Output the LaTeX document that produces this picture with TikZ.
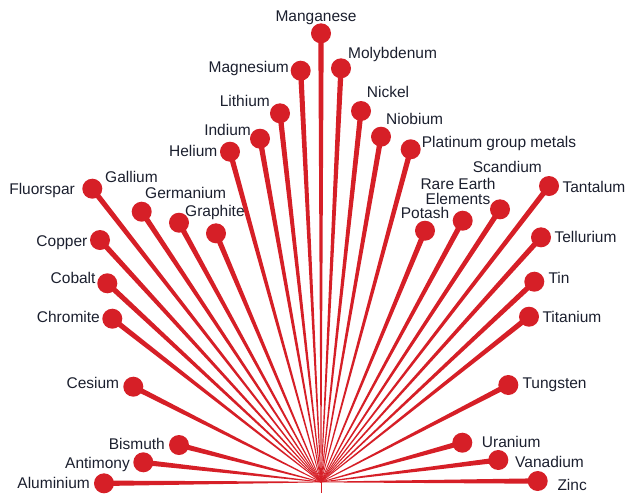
\documentclass[tikz,border=0pt]{standalone}
\usepackage{fontspec}
\setmainfont{Liberation Sans}
\usetikzlibrary{calc}
\definecolor{mred}{RGB}{214,31,39}
\definecolor{txt}{RGB}{27,31,46}
\tikzset{
  dot/.style={circle, fill=mred, draw=none, minimum size=20pt, inner sep=0pt},
  lbl/.style={font=\fontsize{15.5}{15.3}\selectfont, text=txt, inner sep=0pt},
  ray/.style={fill=mred, draw=none},
}
\begin{document}
\begin{tikzpicture}[x=1pt,y=-1pt]
\useasboundingbox (0,0) rectangle (629,493);
\coordinate (O) at (321,482);
\coordinate (B) at (321,493);
\foreach \n/\x/\y in {mn/321/33.3, mg/300.7/70.7, li/280/113.3, in/260/138.7, he/230/151.7,
  fl/92.3/188.7, ga/141.7/211.7, ge/179/222.7, gr/216/233.3, cu/100/240, co/107.3/283.3,
  cr/112.3/318.7, cs/133.3/386.7, bi/179/445, sb/143.3/462.3, al/104/483.3,
  mo/341/68.3, ni/361/111, nb/381/136.7, pt/410.7/149.3, sc/500/209.3, ree/462.7/220.7,
  po/425/230.7, ta/549/186, te/541/237.3, sn/534.3/281.7, ti/529/316.7, w/508.3/385,
  u/462.3/442.7, v/498.3/460, zn/537.7/481}
  \coordinate (p-\n) at (\x,\y);
% tapered rays
\draw[mred, line width=0.6pt] (O) -- (B);
\foreach \n in {mn,mg,li,in,he,fl,ga,ge,gr,cu,co,cr,cs,bi,sb,al,mo,ni,nb,pt,sc,ree,po,ta,te,sn,ti,w,u,v,zn}
  \fill[ray] ($(O)!0.35pt!90:(p-\n)$) -- ($(p-\n)!2.7pt!-90:(O)$) -- ($(p-\n)!2.7pt!90:(O)$) -- ($(O)!0.35pt!-90:(p-\n)$) -- cycle;
% end dots
\foreach \n in {mn,mg,li,in,he,fl,ga,ge,gr,cu,co,cr,cs,bi,sb,al,mo,ni,nb,pt,sc,ree,po,ta,te,sn,ti,w,u,v,zn}
  \node[dot] (\n) at (p-\n) {};
% labels
\foreach \n/\t/\a/\lx/\ly in {
  mn/Manganese/center/316/16,
  mg/Magnesium/east/289/67,
  li/Lithium/east/270/101,
  in/Indium/east/251/130,
  he/Helium/east/217.5/151,
  fl/Fluorspar/east/75/189,
  ga/Gallium/west/105/177,
  ge/Germanium/west/145/193.3,
  gr/Graphite/west/185/211,
  cu/Copper/east/87.5/240.7,
  co/Cobalt/east/95.7/278.3,
  cr/Chromite/east/100/316.7,
  cs/Cesium/east/119.3/383.3,
  bi/Bismuth/east/165/444,
  sb/Antimony/east/130/463.3,
  al/Aluminium/east/90/483.3,
  mo/Molybdenum/west/348/52.7,
  ni/Nickel/west/366.7/91.7,
  nb/Niobium/west/386/119.3,
  pt/Platinum group metals/west/421.7/141.7,
  sc/Scandium/west/472.7/166.7,
  po/Potash/center/425/213.3,
  ta/Tantalum/west/562.3/186.7,
  te/Tellurium/west/554.3/237.3,
  sn/Tin/west/548.3/278.3,
  ti/Titanium/west/542.3/316.7,
  w/Tungsten/west/522.3/383.3,
  u/Uranium/west/481.7/441.7,
  v/Vanadium/west/515/462.3,
  zn/Zinc/west/557.3/485}
  \node[lbl, text height=11.1pt, text depth=0pt, anchor=\a] (l-\n) at (\lx,\ly) {\t};
\node[lbl, align=center, anchor=center] (l-ree) at (458,191.7) {Rare Earth\\Elements};
\end{tikzpicture}
\end{document}
